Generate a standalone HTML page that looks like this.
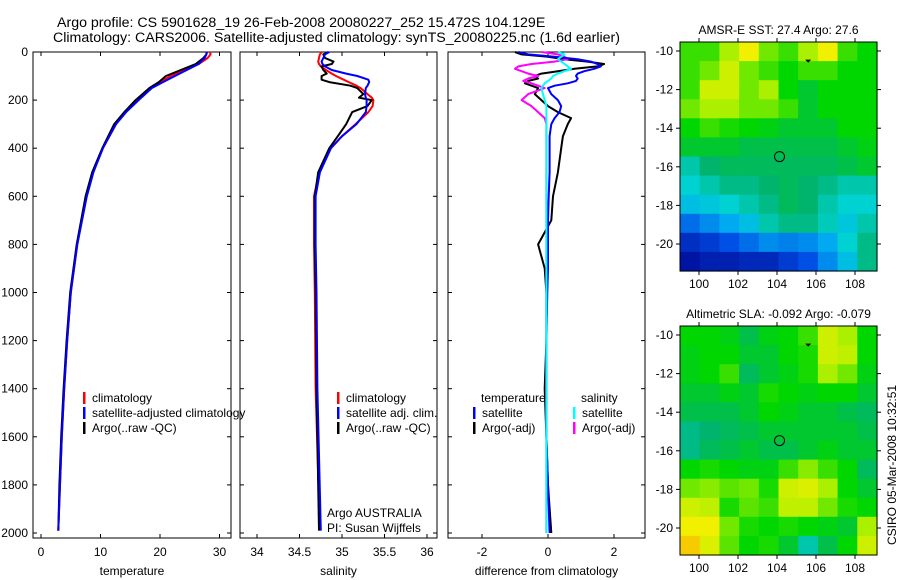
<!DOCTYPE html>
<html><head><meta charset="utf-8"><style>
body{margin:0;background:#fff;}
svg{display:block;font-family:"Liberation Sans",sans-serif;font-size:12px;}
</style></head><body>
<svg id="fig" width="900" height="580" viewBox="0 0 900 580" xmlns="http://www.w3.org/2000/svg">
<rect width="900" height="580" fill="#fff"/>
<text x="57" y="27" font-size="14.2">Argo profile: CS 5901628_19 26-Feb-2008 20080227_252 15.472S 104.129E</text>
<text x="53" y="42" font-size="14.2">Climatology: CARS2006. Satellite-adjusted climatology: synTS_20080225.nc (1.6d earlier)</text>
<text transform="translate(896,545) rotate(-90)" font-size="12">CSIRO 05-Mar-2008 10:32:51</text>
</svg>
<script>
// ---- data ----
const depthTS=[0,10,25,50,75,100,125,150,200,250,300,400,500,600,800,1000,1200,1400,1600,1800,1990];
const tempClim=[28.4,28.5,28.0,26.5,24,21.8,20,18.6,16.2,14.2,12.6,10.4,8.7,7.6,6.1,5.0,4.4,3.9,3.5,3.2,2.9];
const tempSat=[27.8,27.8,27.5,26.5,24.5,22.5,20.5,18.6,16.4,14.3,12.6,10.4,8.8,7.7,6.1,5.0,4.4,3.9,3.5,3.2,2.9];
const tempArgo=[27.9,27.8,27.3,26,23.5,21,19.8,18.2,15.9,14,12.3,10.3,8.6,7.5,6.0,4.9,4.3,3.8,3.4,3.1,2.9];
const depthS=[0,10,25,40,50,60,75,90,100,115,125,140,150,175,190,200,225,250,300,350,400,500,600,800,1000,1400,1990];
const salClim=[34.76,34.74,34.73,34.72,34.73,34.75,34.81,34.88,34.93,35.02,35.08,35.17,35.22,35.3,35.35,35.37,35.36,35.31,35.16,35.0,34.87,34.73,34.67,34.67,34.68,34.69,34.74];
const salSat=[34.85,34.8,34.78,34.76,34.77,34.8,34.88,35.05,35.18,35.31,35.32,35.3,35.28,35.27,35.28,35.29,35.29,35.28,35.17,35.0,34.87,34.74,34.69,34.69,34.7,34.71,34.75];
const salArgo=[34.84,34.78,34.8,34.9,34.88,34.76,34.78,34.82,34.76,34.76,34.85,35.1,35.18,35.25,35.2,35.35,35.3,35.12,35.05,34.95,34.85,34.72,34.68,34.68,34.69,34.7,34.73];
const depthD=[0,10,20,30,40,50,60,70,80,90,100,110,120,130,140,150,175,200,225,250,275,300,350,400,500,600,700,800,900,1000,1200,1400,1600,1800,2000];
const dTempSat=[-0.9,-0.6,0.2,0.9,1.3,1.5,1.6,1.4,1.1,0.9,0.85,0.9,0.85,0.6,0.2,0.0,0.1,0.3,0.4,0.35,0.2,0.1,0.05,0.05,0.05,0.02,0,0,0,-0.02,-0.05,-0.05,-0.05,0,0.05];
const dTempArgo=[-1.0,-0.8,0.0,0.5,1.2,1.7,1.5,0.8,0.3,-0.2,-0.4,-0.3,-0.6,-0.7,-0.5,-0.3,-0.4,-0.2,0.0,0.3,0.7,0.6,0.45,0.4,0.3,0.15,0.1,-0.3,-0.1,-0.05,-0.05,-0.1,-0.05,0,0.1];
const dSalSat=[0.3,0.5,0.4,0.3,0.4,0.5,0.6,0.7,0.5,0.3,0.15,0.1,0.0,-0.1,-0.15,-0.2,-0.15,-0.1,-0.05,-0.05,-0.05,-0.05,-0.05,-0.05,-0.05,-0.05,-0.05,-0.05,-0.05,-0.05,-0.05,-0.05,-0.05,-0.05,-0.05];
const dSalArgo=[-0.2,0.3,0.5,0.6,0.2,-0.5,-0.9,-1.0,-0.8,-0.6,-0.3,-0.6,-0.75,-0.5,-0.3,-0.1,-0.6,-0.8,-0.5,-0.3,-0.1,-0.05,-0.05,-0.05,-0.05,-0.05,-0.05,-0.05,-0.05,-0.05,-0.05,-0.05,-0.05,-0.05,-0.05];
const depthTicks=[0,200,400,600,800,1000,1200,1400,1600,1800,2000];
const tempTicks=[0,10,20,30];
const salTicks=[34,34.5,35,35.5,36];
const diffTicks=[-2,0,2];
const lonTicks=[100,102,104,106,108];
const latTicks=[-10,-12,-14,-16,-18,-20];
const sstGrid=[
[0.75,0.75,0.85,0.95,0.8,0.75,0.85,0.95,0.75,0.7],
[0.75,0.8,0.9,0.8,0.75,0.7,0.75,0.75,0.7,0.7],
[0.75,0.9,0.9,0.8,0.85,0.7,0.65,0.7,0.7,0.7],
[0.8,0.85,0.85,0.8,0.8,0.75,0.65,0.7,0.7,0.7],
[0.7,0.75,0.72,0.7,0.68,0.65,0.65,0.65,0.7,0.7],
[0.65,0.65,0.65,0.62,0.62,0.62,0.62,0.62,0.65,0.68],
[0.5,0.58,0.6,0.6,0.6,0.6,0.6,0.6,0.62,0.65],
[0.45,0.5,0.55,0.55,0.58,0.6,0.58,0.55,0.5,0.5],
[0.4,0.42,0.45,0.5,0.55,0.6,0.58,0.5,0.45,0.45],
[0.25,0.3,0.35,0.4,0.5,0.55,0.55,0.48,0.42,0.5],
[0.12,0.15,0.2,0.25,0.3,0.28,0.3,0.35,0.45,0.55],
[0.05,0.08,0.08,0.1,0.1,0.15,0.2,0.3,0.4,0.55]];
const slaGrid=[
[0.7,0.7,0.68,0.62,0.68,0.7,0.75,0.9,0.85,0.7],
[0.68,0.7,0.7,0.65,0.65,0.7,0.72,0.9,0.88,0.7],
[0.68,0.7,0.75,0.6,0.65,0.68,0.72,0.85,0.8,0.68],
[0.65,0.65,0.68,0.65,0.72,0.7,0.68,0.7,0.7,0.65],
[0.62,0.62,0.62,0.65,0.7,0.68,0.65,0.65,0.62,0.6],
[0.55,0.58,0.6,0.62,0.65,0.65,0.65,0.65,0.65,0.62],
[0.55,0.6,0.62,0.65,0.62,0.62,0.65,0.68,0.65,0.65],
[0.7,0.72,0.7,0.68,0.68,0.75,0.82,0.75,0.7,0.6],
[0.8,0.82,0.78,0.8,0.72,0.9,0.92,0.85,0.7,0.65],
[0.9,0.88,0.72,0.78,0.75,0.88,0.88,0.8,0.72,0.7],
[0.95,0.95,0.8,0.72,0.7,0.72,0.7,0.68,0.65,0.85],
[0.98,0.92,0.78,0.7,0.72,0.65,0.5,0.62,0.7,0.9]];
const floatLon=[104.129], floatLat=[-15.472];

// ---- helpers ----
const NS='http://www.w3.org/2000/svg';
const svg=document.getElementById('fig');
function mk(tag,attrs,parent){const e=document.createElementNS(NS,tag);for(const k in attrs)e.setAttribute(k,attrs[k]);(parent||svg).appendChild(e);return e;}
function txt(s,x,y,anchor,parent,size){const t=mk('text',{x:x,y:y,'text-anchor':anchor||'start','font-size':size||12},parent);t.textContent=s;return t;}
const Y0=52, YS=0.2405;
const yD=d=>Y0+d*YS;
const PT=538;
function panel(name,x0,x1,ticks,xf,xlabel){
  const g=mk('g',{});
  
  
  mk('rect',{x:x0,y:Y0,width:x1-x0,height:PT-Y0,fill:'none',stroke:'#000','stroke-width':1},g);
  depthTicks.forEach(d=>{
    mk('line',{x1:x0,x2:x0+4,y1:yD(d),y2:yD(d),stroke:'#000'},g);
    mk('line',{x1:x1-4,x2:x1,y1:yD(d),y2:yD(d),stroke:'#000'},g);
  });
  ticks.forEach(v=>{
    const x=xf(v);
    mk('line',{x1:x,x2:x,y1:PT,y2:PT-4,stroke:'#000'},g);
    mk('line',{x1:x,x2:x,y1:Y0,y2:Y0+4,stroke:'#000'},g);
    const t=txt(String(v),x,556,'middle',g);
    
    
  });
  const xl=txt(xlabel,(x0+x1)/2,575,'middle',g);
  
  
  return g;
}
function line(g,name,xs,ds,xf,color){
  const p=mk('polyline',{points:xs.map((v,i)=>xf(v).toFixed(1)+','+yD(ds[i]).toFixed(1)).join(' '),fill:'none',stroke:color,'stroke-width':2,'stroke-linejoin':'round'},g);
  
  
}
function legend(g,items,x,y){
  items.forEach((it,i)=>{
    if(it[1]) mk('rect',{x:x,y:y+i*15-10,width:2.5,height:12,fill:it[1]},g);
    const t=txt(it[0],x+(it[1]?9:0),y+i*15,'start',g);
    
    
  });
}

depthTicks.forEach(d=>{
  const t=txt(String(d),28,yD(d)+4,'end');
  
  
});

const xT=v=>41+5.95*v;
const gT=panel('temperature-panel',33,231,tempTicks,xT,'temperature');
line(gT,'temp-climatology-line',tempClim,depthTS,xT,'#f00');
line(gT,'temp-argo-line',tempArgo,depthTS,xT,'#000');
line(gT,'temp-satellite-line',tempSat,depthTS,xT,'#00f');
legend(gT,[['climatology','#f00'],['satellite-adjusted climatology','#00f'],['Argo(..raw -QC)','#000']],83,402);

const xS=v=>257+85*(v-34);
const gS=panel('salinity-panel',240,437,salTicks,xS,'salinity');
line(gS,'sal-climatology-line',salClim,depthS,xS,'#f00');
line(gS,'sal-argo-line',salArgo,depthS,xS,'#000');
line(gS,'sal-satellite-line',salSat,depthS,xS,'#00f');
legend(gS,[['climatology','#f00'],['satellite adj. clim.','#00f'],['Argo(..raw -QC)','#000']],337,402);
legend(gS,[['Argo AUSTRALIA',null],['PI: Susan Wijffels',null]],327,517);

const xDf=v=>548+33*v;
const gD=panel('difference-panel',448,645,diffTicks,xDf,'difference from climatology');
line(gD,'temp-argo-diff-line',dTempArgo,depthD,xDf,'#000');
line(gD,'sal-argo-diff-line',dSalArgo,depthD,xDf,'#f0f');
line(gD,'temp-satellite-diff-line',dTempSat,depthD,xDf,'#00f');
line(gD,'sal-satellite-diff-line',dSalSat,depthD,xDf,'#0ff');
legend(gD,[['temperature',null]],481,402);
legend(gD,[['satellite','#00f'],['Argo(-adj)','#000']],473,417);
legend(gD,[['salinity',null]],581,402);
legend(gD,[['satellite','#0ff'],['Argo(-adj)','#f0f']],573,417);

const stops=[[0,[0,0,140]],[0.2,[0,80,230]],[0.35,[0,170,240]],[0.45,[0,210,210]],[0.58,[0,180,110]],[0.7,[0,215,0]],[0.85,[170,240,0]],[0.95,[240,240,0]],[1,[250,180,0]]];
function cmap(v){for(let i=1;i<stops.length;i++){if(v<=stops[i][0]){const a=stops[i-1],b=stops[i],t=(v-a[0])/(b[0]-a[0]);return 'rgb('+a[1].map((c,k)=>Math.round(c+(b[1][k]-c)*t)).join(',')+')';}}return 'rgb(250,180,0)';}

function map(name,title,grid,y0,y1,lat10y){
  const x0=680,x1=877;
  const g=mk('g',{});
  
  
  const lonX=l=>699+(l-100)*19.5;
  const latY=l=>lat10y+(-10-l)*19.3;
  const rows=grid.length, cols=grid[0].length;
  const cw=(x1-x0)/cols, ch=(y1-y0)/rows;
  grid.forEach((row,r)=>row.forEach((v,c)=>{
    const cell=mk('rect',{x:(x0+c*cw).toFixed(1),y:(y0+r*ch).toFixed(1),width:(cw+0.6).toFixed(1),height:(ch+0.6).toFixed(1),fill:cmap(v)},g);
    
    
  }));
  mk('rect',{x:x0,y:y0,width:x1-x0,height:y1-y0,fill:'none',stroke:'#000'},g);
  lonTicks.forEach(l=>{const x=lonX(l);mk('line',{x1:x,x2:x,y1:y1,y2:y1+4,stroke:'#000'},g);mk('line',{x1:x,x2:x,y1:y0,y2:y0-4,stroke:'#000'},g);
    const t=txt(String(l),x,y1+17,'middle',g);});
  latTicks.forEach(l=>{const y=latY(l);mk('line',{x1:x0-4,x2:x0,y1:y,y2:y,stroke:'#000'},g);mk('line',{x1:x1,x2:x1+4,y1:y,y2:y,stroke:'#000'},g);
    const t=txt(String(l),x0-7,y+4,'end',g);});
  const tt=txt(title,(x0+x1)/2,y0-8,'middle',g);
  
  
  const m=mk('circle',{cx:lonX(floatLon[0]),cy:latY(floatLat[0]),r:5,fill:'none',stroke:'#000','stroke-width':1},g);
  
  
  mk('path',{d:'M'+(lonX(105.6)-3)+','+(latY(-10.5)-1)+' h6 l-3,3 z',fill:'#000'},g);
}
map('sst-map','AMSR-E SST: 27.4 Argo: 27.6',sstGrid,42,271,51);
map('sla-map','Altimetric SLA: -0.092 Argo: -0.079',slaGrid,326,555,335);
</script>
</body></html>
